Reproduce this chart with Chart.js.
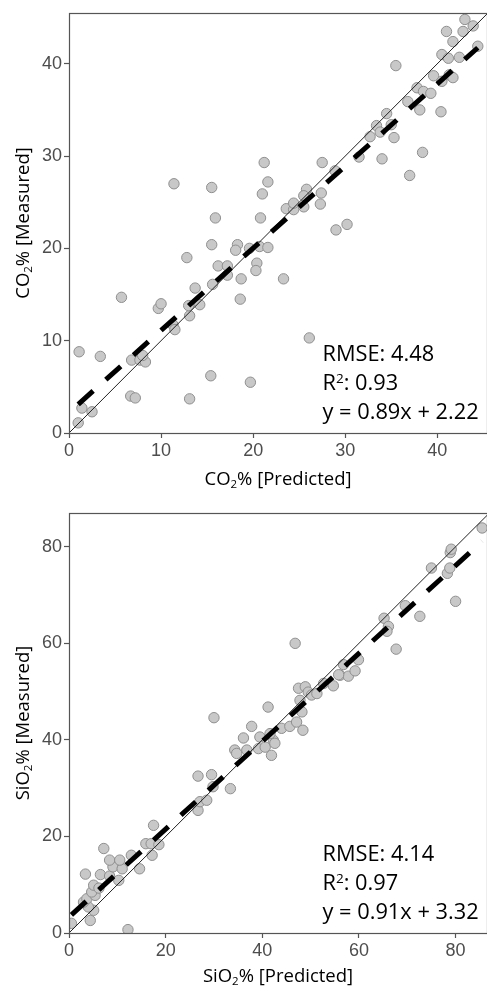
<!DOCTYPE html>
<html>
<head>
<meta charset="utf-8">
<script src="https://cdn.jsdelivr.net/npm/chart.js@4.4.0/dist/chart.umd.min.js"></script>
<style>
  html, body { margin: 0; padding: 0; background: #ffffff; }
  body { width: 487px; height: 986px; position: relative; overflow: hidden; }
  canvas { position: absolute; left: 0; }
  #co2Chart { top: 0; }
  #sio2Chart { top: 493px; }
</style>
</head>
<body>
<canvas id="co2Chart" width="487" height="493"></canvas>
<canvas id="sio2Chart" width="487" height="493"></canvas>
<script>
// ---- CO2 panel: predicted vs measured (%) ----
const co2Predicted = [1.0, 1.4, 2.5, 1.1, 3.4, 6.8, 7.7, 8.3, 8.0, 6.7, 7.2, 13.1, 15.4, 19.7, 26.1,
  11.3, 11.5, 13.1, 9.7, 10.0, 13.0, 14.2, 5.7, 18.6, 13.7, 15.6, 18.7, 17.2, 23.3, 16.2, 17.2, 20.4,
  20.3, 12.8, 15.5, 18.3, 18.1, 19.6, 20.7, 21.6, 15.9, 20.8, 29.0, 30.2, 23.6, 24.4, 25.5, 24.4, 27.3,
  25.8, 27.4, 25.5, 21.0, 11.4, 15.5, 21.6, 21.2, 27.5, 28.9, 31.5, 34.0, 38.4, 37.0, 35.3, 32.7, 33.4,
  35.0, 33.8, 34.5, 36.8, 38.1, 40.4, 37.8, 38.5, 39.3, 39.6, 41.3, 41.7, 40.5, 35.5, 40.5, 41.2, 42.4,
  41.7, 44.4, 41.0, 42.8, 43.0, 43.9];
const co2Measured = [1.1, 2.7, 2.3, 8.8, 8.3, 7.9, 7.9, 7.7, 8.4, 4.0, 3.8, 3.7, 6.2, 5.5, 10.3,
  11.7, 11.2, 12.7, 13.5, 14.0, 13.8, 13.9, 14.7, 14.5, 15.7, 16.1, 16.7, 17.1, 16.7, 18.1, 18.1, 18.4,
  17.6, 19.0, 20.4, 20.4, 19.8, 20.0, 20.2, 20.1, 23.3, 23.3, 22.0, 22.6, 24.3, 24.2, 24.5, 24.9, 24.8,
  26.4, 26.0, 25.7, 25.9, 27.0, 26.6, 27.2, 29.3, 29.3, 28.4, 29.9, 29.7, 30.4, 27.9, 32.0, 32.1, 33.3,
  33.4, 32.6, 34.6, 35.9, 35.0, 34.8, 37.4, 37.0, 36.8, 38.7, 38.8, 38.5, 38.1, 39.8, 41.0, 40.6, 40.7,
  42.4, 41.9, 43.5, 43.5, 44.8, 44.1];
const co2Ticks = [0, 10, 20, 30, 40];
const co2AxisMax = [45.4, 45.5];          // x, y upper limits
const co2Fit = [0.89, 2.22];              // slope, intercept
const co2Stats = ['4.48', '0.93'];        // RMSE, R2

// ---- SiO2 panel: predicted vs measured (%) ----
const sio2Predicted = [0.5, 4.4, 5.1, 4.0, 3.0, 3.7, 5.4, 4.7, 5.1, 6.2, 3.4, 6.5, 8.4, 10.3, 9.1,
  11.0, 8.4, 10.5, 12.9, 14.6, 7.2, 15.9, 17.0, 18.6, 17.2, 17.5, 12.2, 26.7, 27.1, 28.5, 29.8, 33.4,
  26.7, 29.5, 30.0, 34.3, 34.7, 36.8, 36.1, 37.8, 39.2, 39.5, 40.6, 41.9, 42.3, 42.6, 41.6, 44.0, 45.7,
  48.4, 47.1, 48.2, 41.2, 47.8, 47.5, 48.9, 49.5, 50.2, 51.3, 52.7, 46.8, 54.7, 56.1, 57.8, 59.2, 56.8,
  59.9, 55.8, 65.2, 66.1, 65.8, 67.7, 69.6, 72.6, 75.0, 78.3, 78.8, 78.9, 79.1, 80.0, 85.5];
const sio2Measured = [2.0, 2.6, 4.7, 5.4, 6.4, 7.1, 7.8, 8.5, 9.9, 9.3, 12.2, 12.1, 11.8, 10.9, 13.7,
  13.3, 15.1, 15.1, 16.1, 13.3, 17.5, 18.5, 18.5, 18.3, 16.1, 22.3, 0.7, 25.4, 27.2, 27.5, 30.3, 29.9,
  32.5, 32.8, 44.6, 37.9, 37.2, 37.9, 40.4, 42.8, 38.2, 40.6, 38.5, 36.8, 39.9, 39.3, 41.3, 42.4, 42.8,
  42.0, 43.7, 45.8, 46.8, 48.2, 50.7, 51.0, 49.9, 49.3, 49.6, 51.7, 60.0, 51.2, 53.4, 53.2, 54.3, 55.6,
  56.6, 53.5, 65.2, 63.5, 62.5, 58.8, 67.8, 65.6, 75.6, 74.5, 75.6, 78.8, 79.5, 68.7, 83.9];
const sio2Ticks = [0, 20, 40, 60, 80];
const sio2AxisMax = [86.5, 87.0];
const sio2Fit = [0.91, 3.32];
const sio2Stats = ['4.14', '0.97'];

const AXIS_COLOR = '#555555';
const TICK_TEXT = '#4d4d4d';
const TEXT_FONT = '"Open Sans", "Noto Sans", sans-serif';

// Draws a run of text pieces, some of them lowered (sub) or raised (sup).
function drawRich(ctx, parts, x, y, size, align) {
  const measure = p => {
    ctx.font = (p.m ? size * 0.62 : size) + 'px ' + TEXT_FONT;
    return ctx.measureText(p.t).width;
  };
  const total = parts.reduce((s, p) => s + measure(p), 0);
  let cx = align === 'center' ? x - total / 2 : x;
  ctx.textAlign = 'left';
  ctx.textBaseline = 'alphabetic';
  parts.forEach(p => {
    const w = measure(p);
    let dy = 0;
    if (p.m === 'sub') dy = size * 0.2;
    if (p.m === 'sup') dy = -size * 0.34;
    ctx.fillText(p.t, cx, y + dy);
    cx += w;
  });
}

function decorPlugin(opts) {
  return {
    id: 'decor',
    afterDraw(chart) {
      const { ctx, chartArea: a } = chart;
      ctx.save();
      // panel frame
      ctx.strokeStyle = AXIS_COLOR;
      ctx.lineWidth = 1.2;
      ctx.strokeRect(Math.round(a.left) + 0.5, Math.round(a.top) + 0.5,
        Math.round(a.right - a.left), Math.round(a.bottom - a.top));
      ctx.fillStyle = '#000000';
      const ts = 18.5;
      // x axis title
      drawRich(ctx, [{ t: opts.name[0] }, { t: '2', m: 'sub' }, { t: '% [Predicted]' }],
        (a.left + a.right) / 2, a.bottom + opts.titleGap, ts, 'center');
      // y axis title
      ctx.save();
      ctx.translate(28.5, (a.top + a.bottom) / 2);
      ctx.rotate(-Math.PI / 2);
      drawRich(ctx, [{ t: opts.name[0] }, { t: '2', m: 'sub' }, { t: '% [Measured]' }],
        0, 0, ts, 'center');
      ctx.restore();
      // statistics block
      const tx = a.left + 253.5;
      const fs = 21.8;
      drawRich(ctx, [{ t: 'RMSE: ' + opts.stats[0] }], tx, a.bottom - 72, fs, 'left');
      drawRich(ctx, [{ t: 'R' }, { t: '2', m: 'sup' }, { t: ': ' + opts.stats[1] }], tx, a.bottom - 43, fs, 'left');
      drawRich(ctx, [{ t: 'y = ' + opts.fit[0].toFixed(2) + 'x + ' + opts.fit[1].toFixed(2) }], tx, a.bottom - 14, fs, 'left');
      ctx.restore();
    }
  };
}

function makePanel(canvasId, predicted, measured, ticks, axisMax, fit, stats, name, topPad, bottomSpace, titleGap) {
  const points = predicted.map((v, i) => ({ x: v, y: measured[i] }));
  const lo = Math.min(...predicted);
  const hi = Math.max(...predicted);
  const fitLine = [lo, hi].map(v => ({ x: v, y: fit[0] * v + fit[1] }));
  const diag = Math.min(axisMax[0], axisMax[1]);
  const identity = [0, diag].map(v => ({ x: v, y: v }));

  const scaleCommon = (max, isX) => ({
    type: 'linear',
    min: 0,
    max: max,
    afterBuildTicks: s => { s.ticks = ticks.map(v => ({ value: v })); },
    afterFit: s => {
      if (isX) s.height = bottomSpace; else s.width = 69;
    },
    grid: {
      display: true, drawOnChartArea: false, drawTicks: true,
      tickLength: 5, tickColor: AXIS_COLOR, tickWidth: 1.2, color: AXIS_COLOR
    },
    border: { display: false },
    ticks: {
      color: TICK_TEXT,
      padding: 2,
      maxRotation: 0,
      autoSkip: false,
      font: { family: '"Liberation Sans", Arial, sans-serif', size: 18 }
    }
  });

  return new Chart(document.getElementById(canvasId), {
    type: 'scatter',
    data: {
      datasets: [
        {
          data: fitLine, showLine: true, borderColor: '#000000', borderWidth: 5,
          borderDash: [20, 17], pointRadius: 0, order: 0
        },
        {
          data: identity, showLine: true, borderColor: '#222222', borderWidth: 1,
          pointRadius: 0, order: 1
        },
        {
          data: points, backgroundColor: '#c8c8c8', borderColor: '#8f8f8f', borderWidth: 1,
          pointRadius: 5.2, pointHoverRadius: 5.2, order: 2
        }
      ]
    },
    options: {
      responsive: false,
      animation: false,
      devicePixelRatio: 1,
      layout: { autoPadding: false, padding: { left: 0, right: 0, top: topPad, bottom: 0 } },
      plugins: { legend: { display: false }, tooltip: { enabled: false } },
      scales: { x: scaleCommon(axisMax[0], true), y: scaleCommon(axisMax[1], false) }
    },
    plugins: [decorPlugin({ name: name, stats: stats, fit: fit, titleGap: titleGap })]
  });
}

makePanel('co2Chart', co2Predicted, co2Measured, co2Ticks, co2AxisMax, co2Fit, co2Stats, ['CO'], 13, 60, 51.5);
makePanel('sio2Chart', sio2Predicted, sio2Measured, sio2Ticks, sio2AxisMax, sio2Fit, sio2Stats, ['SiO'], 20, 53, 48.5);
</script>
</body>
</html>
